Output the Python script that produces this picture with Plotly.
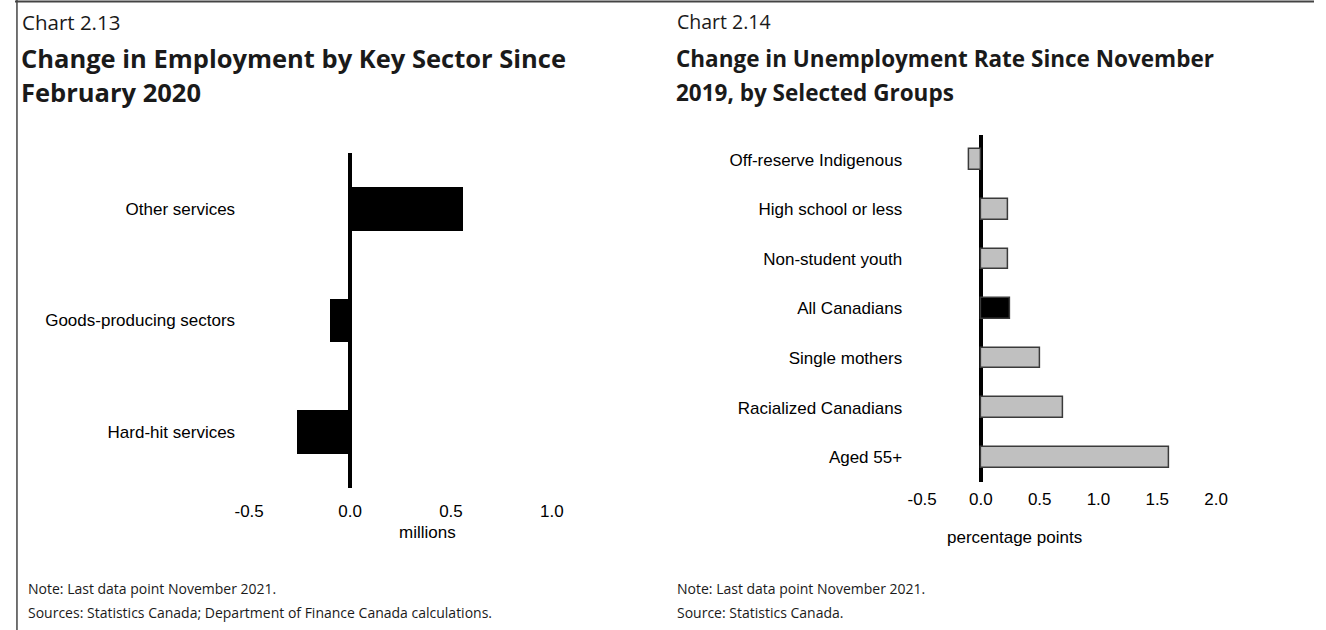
import plotly.graph_objects as go

W, H = 1326, 630

# Chart 2.13 data (millions)
sectors = ["Hard-hit services", "Goods-producing sectors", "Other services"]
sector_change = [-0.26, -0.10, 0.56]

# Chart 2.14 data (percentage points)
groups = ["Aged 55+", "Racialized Canadians", "Single mothers", "All Canadians",
          "Non-student youth", "High school or less", "Off-reserve Indigenous"]
rate_change = [1.60, 0.70, 0.50, 0.25, 0.23, 0.23, -0.10]
group_colors = ["#c0c0c0", "#c0c0c0", "#c0c0c0", "#000000",
                "#c0c0c0", "#c0c0c0", "#c0c0c0"]

left_ticks = [-0.5, 0.0, 0.5, 1.0]
right_ticks = [-0.5, 0.0, 0.5, 1.0, 1.5, 2.0]


def px_x(p):
    return p / W


def px_y(p):
    return 1 - p / H


LABEL_FONT = dict(family="Liberation Sans, Arial", size=17, color="#000000")
TITLE_FONT = "Open Sans"

fig = go.Figure()

fig.add_trace(go.Bar(
    x=sector_change, y=sectors, orientation="h",
    marker=dict(color="#000000", line=dict(width=0)),
    width=0.39, xaxis="x", yaxis="y", showlegend=False,
))

fig.add_trace(go.Bar(
    x=rate_change, y=groups, orientation="h",
    marker=dict(color=group_colors, line=dict(color="#3a3a3a", width=1.5)),
    width=0.42, xaxis="x2", yaxis="y2", showlegend=False,
))

axis_common = dict(showgrid=False, showline=False, ticks="",
                   tickfont=LABEL_FONT, zeroline=True,
                   zerolinecolor="#000000", zerolinewidth=4)

fig.update_layout(
    width=W, height=H,
    margin=dict(l=0, r=0, t=0, b=0),
    paper_bgcolor="#ffffff", plot_bgcolor="#ffffff",
    bargap=0,
    xaxis=dict(**axis_common, domain=[px_x(239), px_x(548)],
               range=[-0.5, 1.0], tickvals=left_ticks,
               ticktext=["-0.5", "0.0", "0.5", "1.0"],
               anchor="y", ticklabelstandoff=11),
    yaxis=dict(showgrid=False, showline=False, zeroline=False, ticks="",
               tickfont=LABEL_FONT, domain=[px_y(488), px_y(153)],
               range=[-0.5, 2.5], categoryorder="array",
               categoryarray=sectors, anchor="x", ticklabelstandoff=13),
    xaxis2=dict(**axis_common, domain=[px_x(926), px_x(1226)],
                range=[-0.5, 2.0], tickvals=right_ticks,
                ticktext=["-0.5", "0.0", "0.5", "1.0", "1.5", "2.0"],
                anchor="y2", ticklabelstandoff=5),
    yaxis2=dict(showgrid=False, showline=False, zeroline=False, ticks="",
                tickfont=LABEL_FONT, domain=[px_y(482), px_y(135)],
                range=[-0.5, 6.5], categoryorder="array",
                categoryarray=groups, anchor="x2", ticklabelstandoff=19),
)

# Frame lines along the top and the left edge
fig.add_shape(type="line", xref="paper", yref="paper",
              x0=0, x1=1, y0=px_y(1.5), y1=px_y(1.5),
              line=dict(color="#444444", width=2))
fig.add_shape(type="line", xref="paper", yref="paper",
              x0=px_x(2), x1=px_x(2), y0=0, y1=1,
              line=dict(color="#444444", width=1.5))


def text(x, y, s, size, bold=False, color="#1a1a1a", family=TITLE_FONT,
         xanchor="left"):
    fig.add_annotation(
        x=px_x(x), y=px_y(y), xref="paper", yref="paper",
        text=f"<b>{s}</b>" if bold else s, showarrow=False,
        xanchor=xanchor, yanchor="middle", align="left",
        font=dict(family=family, size=size, color=color),
    )


# Headings
text(5, 22, "Chart 2.13", 20.5)
text(4, 58, "Change in Employment by Key Sector Since", 25.5, bold=True)
text(4, 92, "February 2020", 25.5, bold=True)
text(674, 22, "Chart 2.14", 19.5)
text(673, 58, "Change in Unemployment Rate Since November", 22.5, bold=True)
text(673, 92, "2019, by Selected Groups", 22.5, bold=True)

# Axis titles
text(421, 532, "millions", 17, family="Liberation Sans, Arial",
     color="#000000", xanchor="center")
text(1020, 537, "percentage points", 17, family="Liberation Sans, Arial",
     color="#000000", xanchor="center")

# Notes and sources
text(11, 588, "Note: Last data point November 2021.", 14)
text(11, 612, "Sources: Statistics Canada; Department of Finance Canada calculations.", 14)
text(674, 588, "Note: Last data point November 2021.", 14)
text(674, 612, "Source: Statistics Canada.", 14)

fig.write_html("out.html")
